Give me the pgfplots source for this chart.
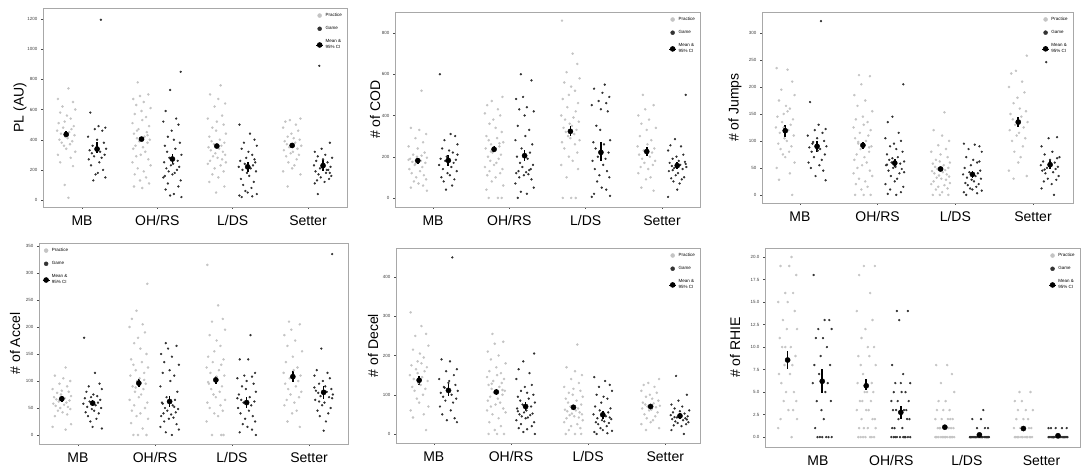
\documentclass[border=0pt]{standalone}
\usepackage{pgfplots}
\usepackage{pgfplotstable}
\pgfplotsset{compat=1.18}
\usepackage{fontspec}
\setmainfont{Liberation Sans}
\definecolor{pracC}{HTML}{C4C4C4}
\definecolor{gameC}{HTML}{303030}
\definecolor{frameC}{HTML}{A8A8A8}

% ---------- PL (AU) ----------
\pgfplotstableread[header=false]{
j1 -0.11 0.03 0.09 -0.05 0.12 -0.08 0.01 0.06 -0.02 -0.10 0.10 -0.04 0.07 -0.12 0.04 -0.07 0.11 -0.01 0.02 -0.09 0.08 -0.06 0.05 -0.03 0.00 0.12 -0.11 0.06 -0.08 0.09 -0.02 0.03 -0.12 0.10 -0.05 0.07 -0.10 0.01 0.04 -0.07
j2 0.05 -0.09 0.02 0.11 -0.03 0.07 -0.12 0.00 0.09 -0.06 -0.01 0.12 -0.10 0.04 -0.07 0.10 -0.04 0.06 -0.11 0.03 -0.08 0.08 -0.02 0.11 -0.05 0.01 0.07 -0.09 0.12 -0.12 0.05 -0.03 0.09 -0.06 0.02 -0.10 0.10 -0.01 -0.08 0.06
pA 670 740 650 620 600 580 560 540 520 510 490 480 470 460 450 440 430 420 410 400 390 380 370 360 340 320 300 280 250 225 100 15 nan nan nan nan nan nan nan nan
pB 780 700 690 670 650 630 610 590 570 550 530 510 490 470 450 440 420 410 400 390 380 360 350 340 320 300 290 270 250 230 210 190 170 150 130 110 90 80 430 460
pC 760 700 670 640 620 560 540 520 500 480 460 440 420 400 390 380 370 360 350 340 330 320 310 300 290 280 270 260 250 240 230 210 190 170 150 120 90 50 nan nan
pD 540 530 520 500 480 460 440 420 410 400 390 380 370 360 350 340 330 320 310 300 290 270 250 230 210 190 170 90 nan nan nan nan nan nan nan nan nan nan nan nan
gA 1195 580 490 480 470 460 420 400 380 360 350 340 330 320 310 300 290 280 270 250 230 200 170 150 130 180 nan nan nan nan nan nan nan nan nan nan nan nan nan nan
gB 850 730 590 540 520 500 460 420 400 380 360 340 320 300 280 260 250 240 230 220 210 200 190 180 170 150 130 110 90 70 40 30 20 160 nan nan nan nan nan nan
gC 500 440 400 380 360 340 320 300 280 260 250 240 230 220 210 200 190 180 160 140 120 100 80 60 50 40 30 25 20 270 nan nan nan nan nan nan nan nan nan nan
gD 890 380 340 320 300 290 280 270 260 250 240 230 220 210 200 190 180 170 160 150 140 130 120 110 200 215 40 180 nan nan nan nan nan nan nan nan nan nan nan nan
}\rawPL
\pgfplotstabletranspose[colnames from=0]\tPL\rawPL

% ---------- # of COD ----------
\pgfplotstableread[header=false]{
j1 -0.11 0.03 0.09 -0.05 0.12 -0.08 0.01 0.06 -0.02 -0.10 0.10 -0.04 0.07 -0.12 0.04 -0.07 0.11 -0.01 0.02 -0.09 0.08 -0.06 0.05 -0.03 0.00 0.12 -0.11 0.06 -0.08 0.09 -0.02 0.03 -0.12 0.10 -0.05 0.07 -0.10 0.01 0.04 -0.07
j2 0.05 -0.09 0.02 0.11 -0.03 0.07 -0.12 0.00 0.09 -0.06 -0.01 0.12 -0.10 0.04 -0.07 0.10 -0.04 0.06 -0.11 0.03 -0.08 0.08 -0.02 0.11 -0.05 0.01 0.07 -0.09 0.12 -0.12 0.05 -0.03 0.09 -0.06 0.02 -0.10 0.10 -0.01 -0.08 0.06
pA 520 340 330 310 290 270 250 240 220 210 200 195 190 180 175 170 160 150 140 130 120 110 100 90 80 70 60 50 35 185 205 165 nan nan nan nan nan nan nan nan
pB 490 470 450 430 410 400 380 360 340 320 300 290 280 270 260 250 240 230 220 210 200 190 180 170 160 150 140 130 120 110 100 80 60 40 0 0 0 245 225 265
pC 860 700 650 610 580 560 540 520 500 480 460 440 420 400 390 380 370 360 350 340 330 320 310 300 290 280 270 260 240 220 200 180 160 140 100 0 0 0 nan nan
pD 500 450 430 400 380 360 340 330 300 280 260 250 240 230 220 210 200 190 180 170 160 150 140 120 100 90 50 35 nan nan nan nan nan nan nan nan nan nan nan nan
gA 600 310 300 280 260 240 230 220 200 190 185 180 170 160 150 140 130 120 110 100 90 80 60 40 175 210 nan nan nan nan nan nan nan nan nan nan nan nan nan nan
gB 600 570 490 480 440 430 420 400 350 330 300 280 260 240 220 200 190 170 160 150 140 130 125 120 115 110 100 90 70 50 30 20 0 135 nan nan nan nan nan nan
gC 550 530 510 490 470 460 450 430 420 350 330 280 270 260 240 220 200 190 180 160 140 130 110 100 80 50 40 20 10 5 nan nan nan nan nan nan nan nan nan nan
gD 500 285 255 250 230 210 200 190 180 175 170 160 155 150 145 140 130 120 110 100 95 90 80 70 40 5 165 135 nan nan nan nan nan nan nan nan nan nan nan nan
}\rawCOD
\pgfplotstabletranspose[colnames from=0]\tCOD\rawCOD

% ---------- # of Jumps ----------
\pgfplotstableread[header=false]{
j1 -0.11 0.03 0.09 -0.05 0.12 -0.08 0.01 0.06 -0.02 -0.10 0.10 -0.04 0.07 -0.12 0.04 -0.07 0.11 -0.01 0.02 -0.09 0.08 -0.06 0.05 -0.03 0.00 0.12 -0.11 0.06 -0.08 0.09 -0.02 0.03 -0.12 0.10 -0.05 0.07 -0.10 0.01 0.04 -0.07
j2 0.05 -0.09 0.02 0.11 -0.03 0.07 -0.12 0.00 0.09 -0.06 -0.01 0.12 -0.10 0.04 -0.07 0.10 -0.04 0.06 -0.11 0.03 -0.08 0.08 -0.02 0.11 -0.05 0.01 0.07 -0.09 0.12 -0.12 0.05 -0.03 0.09 -0.06 0.02 -0.10 0.10 -0.01 -0.08 0.06
pA 235 232 210 195 185 175 165 160 150 145 140 135 130 125 120 115 110 105 100 95 90 85 80 75 70 60 50 40 28 0 125 155 nan nan nan nan nan nan nan nan
pB 222 220 205 185 175 165 155 145 140 135 130 125 120 115 110 105 100 95 90 85 80 75 70 65 60 55 50 45 40 35 30 25 20 15 10 0 0 0 88 98
pC 153 120 110 100 92 85 80 75 70 65 62 60 58 55 52 50 48 46 44 42 40 38 36 34 32 30 28 25 22 20 18 15 12 10 5 0 0 0 nan nan
pD 258 230 225 210 200 190 180 170 160 155 150 145 140 135 130 125 120 115 110 105 100 90 80 70 60 45 35 30 nan nan nan nan nan nan nan nan nan nan nan nan
gA 322 172 130 122 120 115 110 105 100 95 92 90 88 85 80 75 70 65 60 55 50 45 35 27 98 82 nan nan nan nan nan nan nan nan nan nan nan nan nan nan
gB 205 145 135 115 105 100 95 90 85 80 75 70 65 62 60 58 55 52 50 48 45 40 35 30 25 20 15 10 5 2 0 68 42 56 nan nan nan nan nan nan
gC 95 93 90 85 80 70 65 60 55 50 45 42 40 38 35 32 30 28 25 22 20 18 15 12 10 8 5 3 0 62 nan nan nan nan nan nan nan nan nan nan
gD 246 107 105 90 80 75 70 65 62 60 58 55 52 50 48 45 42 40 35 30 28 25 20 12 0 53 47 68 nan nan nan nan nan nan nan nan nan nan nan nan
}\rawJ
\pgfplotstabletranspose[colnames from=0]\tJ\rawJ

% ---------- # of Accel ----------
\pgfplotstableread[header=false]{
j1 -0.11 0.03 0.09 -0.05 0.12 -0.08 0.01 0.06 -0.02 -0.10 0.10 -0.04 0.07 -0.12 0.04 -0.07 0.11 -0.01 0.02 -0.09 0.08 -0.06 0.05 -0.03 0.00 0.12 -0.11 0.06 -0.08 0.09 -0.02 0.03 -0.12 0.10 -0.05 0.07 -0.10 0.01 0.04 -0.07
j2 0.05 -0.09 0.02 0.11 -0.03 0.07 -0.12 0.00 0.09 -0.06 -0.01 0.12 -0.10 0.04 -0.07 0.10 -0.04 0.06 -0.11 0.03 -0.08 0.08 -0.02 0.11 -0.05 0.01 0.07 -0.09 0.12 -0.12 0.05 -0.03 0.09 -0.06 0.02 -0.10 0.10 -0.01 -0.08 0.06
pA 125 110 105 100 95 90 85 82 80 78 75 72 70 68 66 64 62 60 58 56 54 52 50 48 45 42 38 35 20 15 10 65 nan nan nan nan nan nan nan nan
pB 280 230 215 205 200 190 180 170 160 150 140 135 130 125 120 115 110 105 100 95 90 85 80 75 70 65 60 55 50 45 40 35 30 22 12 0 0 0 88 102
pC 315 240 215 210 195 185 175 165 155 145 140 135 130 125 120 115 110 105 100 95 90 85 80 75 70 65 60 55 50 45 40 35 25 0 0 0 98 108 nan nan
pD 210 205 195 185 175 165 155 145 135 125 120 115 110 105 100 95 90 85 80 75 70 65 60 55 45 40 25 15 nan nan nan nan nan nan nan nan nan nan nan nan
gA 180 115 95 90 85 80 75 72 70 68 65 62 60 58 55 52 50 48 45 42 40 35 30 25 15 12 nan nan nan nan nan nan nan nan nan nan nan nan nan nan
gB 170 165 160 150 145 135 130 120 115 110 100 90 80 70 65 60 55 50 48 45 42 40 38 35 32 30 25 20 15 10 5 0 58 52 nan nan nan nan nan nan
gC 185 140 140 115 110 108 105 100 95 90 85 80 75 70 65 62 60 55 50 45 40 35 30 25 20 15 10 5 0 68 nan nan nan nan nan nan nan nan nan nan
gD 335 160 120 115 110 105 100 95 90 85 82 80 78 75 72 70 65 60 55 50 45 40 35 25 8 88 68 62 nan nan nan nan nan nan nan nan nan nan nan nan
}\rawA
\pgfplotstabletranspose[colnames from=0]\tA\rawA

% ---------- # of Decel ----------
\pgfplotstableread[header=false]{
j1 -0.11 0.03 0.09 -0.05 0.12 -0.08 0.01 0.06 -0.02 -0.10 0.10 -0.04 0.07 -0.12 0.04 -0.07 0.11 -0.01 0.02 -0.09 0.08 -0.06 0.05 -0.03 0.00 0.12 -0.11 0.06 -0.08 0.09 -0.02 0.03 -0.12 0.10 -0.05 0.07 -0.10 0.01 0.04 -0.07
j2 0.05 -0.09 0.02 0.11 -0.03 0.07 -0.12 0.00 0.09 -0.06 -0.01 0.12 -0.10 0.04 -0.07 0.10 -0.04 0.06 -0.11 0.03 -0.08 0.08 -0.02 0.11 -0.05 0.01 0.07 -0.09 0.12 -0.12 0.05 -0.03 0.09 -0.06 0.02 -0.10 0.10 -0.01 -0.08 0.06
pA 310 275 255 250 225 215 205 195 185 175 170 165 160 150 145 140 135 130 125 120 115 110 100 90 80 70 60 50 42 10 155 180 nan nan nan nan nan nan nan nan
pB 255 235 230 210 200 190 180 170 160 155 150 145 140 135 130 125 120 115 110 105 100 95 90 85 80 75 70 65 60 55 50 40 30 20 10 0 0 0 112 128
pC 228 170 160 150 140 130 120 115 110 105 100 95 90 85 80 75 70 65 62 60 58 55 52 50 48 45 42 40 35 30 25 20 15 10 0 0 0 72 nan nan
pD 140 130 125 120 110 105 100 95 90 85 80 78 75 72 70 68 65 62 60 55 50 45 40 35 30 25 15 10 nan nan nan nan nan nan nan nan nan nan nan nan
gA 450 190 185 165 160 150 140 130 125 120 115 110 105 100 95 90 85 80 70 60 50 40 35 30 118 135 nan nan nan nan nan nan nan nan nan nan nan nan nan nan
gB 205 185 165 155 140 125 120 110 105 100 95 90 85 80 75 70 65 60 55 52 50 48 45 42 40 35 30 25 20 15 12 5 0 58 nan nan nan nan nan nan
gC 145 135 125 120 110 100 95 90 80 70 65 60 55 50 45 40 38 35 32 30 28 25 20 15 10 8 5 2 0 42 nan nan nan nan nan nan nan nan nan nan
gD 148 100 85 75 70 65 60 58 55 52 50 48 45 42 40 38 35 32 30 28 25 22 20 10 0 47 43 37 nan nan nan nan nan nan nan nan nan nan nan nan
}\rawD
\pgfplotstabletranspose[colnames from=0]\tD\rawD

% ---------- # of RHIE ----------
\pgfplotstableread[header=false]{
j1 -0.11 0.03 0.09 -0.05 0.12 -0.08 0.01 0.06 -0.02 -0.10 0.10 -0.04 0.07 -0.12 0.04 -0.07 0.11 -0.01 0.02 -0.09 0.08 -0.06 0.05 -0.03 0.00 0.12 -0.11 0.06 -0.08 0.09 -0.02 0.03 -0.12 0.10 -0.05 0.07 -0.10 0.01 0.04 -0.07
j2 0.05 -0.09 0.02 0.11 -0.03 0.07 -0.12 0.00 0.09 -0.06 -0.01 0.12 -0.10 0.04 -0.07 0.10 -0.04 0.06 -0.11 0.03 -0.08 0.08 -0.02 0.11 -0.05 0.01 0.07 -0.09 0.12 -0.12 0.05 -0.03 0.09 -0.06 0.02 -0.10 0.10 -0.01 -0.08 0.06
pA 20 19 19 18 16 16 15 15 14 13 12 12 11 10 10 9 8 8 7 7 6 5 5 4 4 3 3 2 2 1 0 10 nan nan nan nan nan nan nan nan
pB 19 19 18 16 14 13 12 11 10 10 9 9 8 8 7 6 6 5 5 5 4 4 4 3 3 3 2 2 2 1 1 1 1 0 0 0 0 0 0 0
pC 8 8 7 6 5 4 4 3 3 3 2 2 2 2 2 1 1 1 1 1 1 1 1 0 0 0 0 0 0 0 0 0 0 0 0 0 0 0 nan nan
pD 5 5 4 4 3 3 3 2 2 2 1 1 1 1 1 0 0 0 0 0 0 0 0 0 0 0 0 0 nan nan nan nan nan nan nan nan nan nan nan nan
gA 18 13 13 12 12 11 11 10 9 8 8 7 6 6 5 4 4 3 2 1 0 0 0 0 0 0 nan nan nan nan nan nan nan nan nan nan nan nan nan nan
gB 14 14 13 8 7 6 6 6 5 5 5 4 4 4 3 3 3 3 2 2 2 1 1 1 0 0 0 0 0 0 0 0 0 0 nan nan nan nan nan nan
gC 3 2 2 1 1 1 0 0 0 0 0 0 0 0 0 0 0 0 0 0 0 0 0 0 0 0 0 0 0 0 nan nan nan nan nan nan nan nan nan nan
gD 1 1 1 1 1 0 0 0 0 0 0 0 0 0 0 0 0 0 0 0 0 0 0 0 0 0 0 0 nan nan nan nan nan nan nan nan nan nan nan nan
}\rawR
\pgfplotstabletranspose[colnames from=0]\tR\rawR

\pgfplotsset{
  panel/.style={
    scale only axis, anchor=south west,
    axis line style={draw=frameC, line width=0.8pt},
    tick align=outside, major tick length=2pt,
    tick style={draw=black!70, line width=0.4pt},
    xtick pos=left, ytick pos=left,
    xtick={0,1,2,3}, xticklabels={MB,OH/RS,L/DS,Setter},
    xticklabel style={font=\fontsize{14}{16}\selectfont, yshift=-3pt},
    yticklabel style={font=\fontsize{4.5}{5}\selectfont, text=black!75},
    ylabel style={font=\fontsize{14}{16}\selectfont, at={(rel axis cs:0,0.5)}, anchor=center},
    /pgf/number format/assume math mode=true,
    /pgf/number format/1000 sep={},
    scaled y ticks=false,
    legend style={draw=none, fill=none, font=\fontsize{4.5}{5.5}\selectfont,
      at={(rel axis cs:0.99,0.985)}, anchor=north east, row sep=4.5pt, inner sep=0pt},
    legend cell align=left,
    legend image code/.code={\draw[mark repeat=2,mark phase=2,##1] plot coordinates {(0pt,0pt) (3.5pt,0pt) (7pt,0pt)};},
  },
  pstyle/.style={forget plot, only marks, mark=*, mark size=1.05pt, color=pracC},
  gstyle/.style={forget plot, only marks, mark=*, mark size=0.95pt, color=gameC},
  mstyle/.style={forget plot, only marks, mark=*, mark size=2.6pt, black,
    error bars/.cd, y dir=both, y explicit, error mark=none,
    error bar style={line width=1.6pt, black}},
}

\newcommand{\legs}{%
  \addlegendimage{only marks, mark=*, mark size=2pt, color=pracC}
  \addlegendentry{Practice}
  \addlegendimage{only marks, mark=*, mark size=2pt, color=black!80}
  \addlegendentry{Game}
  \addlegendimage{black, line width=0.7pt, mark=*, mark size=2.4pt}
  \addlegendentry{\shortstack[l]{Mean \&\\95\% CI}}
}

% #1 table, #2 practice offset, #3 game offset, #4 and #5 jitter columns
\newcommand{\strips}[5]{%
  \addplot[pstyle] table[x expr={(\thisrow{#4})+(#2)}, y=pA]{#1};
  \addplot[pstyle] table[x expr={1+(#2)-(\thisrow{#5})}, y=pB]{#1};
  \addplot[pstyle] table[x expr={2+(#2)+(\thisrow{#5})}, y=pC]{#1};
  \addplot[pstyle] table[x expr={3+(#2)-(\thisrow{#4})}, y=pD]{#1};
  \addplot[gstyle] table[x expr={(\thisrow{#5})+(#3)}, y=gA]{#1};
  \addplot[gstyle] table[x expr={1+(#3)-(\thisrow{#4})}, y=gB]{#1};
  \addplot[gstyle] table[x expr={2+(#3)+(\thisrow{#4})}, y=gC]{#1};
  \addplot[gstyle] table[x expr={3+(#3)-(\thisrow{#5})}, y=gD]{#1};
}

\begin{document}
\begin{tikzpicture}
\useasboundingbox (0,0) rectangle (1084pt,471pt);

% PL (AU)
\begin{axis}[panel, at={(43pt,264pt)}, width=304pt, height=199pt,
  xmin=-0.518, xmax=3.518, ymin=-46, ymax=1273,
  ytick={0,200,...,1200}, ylabel={PL (AU)}, ylabel style={yshift=23pt}]
\legs
\strips{\tPL}{-0.21}{0.2}{j1}{j2}
\addplot[mstyle] coordinates {(-0.21,435) +- (0,20) (0.2,338) += (0,49) -= (0,28)
  (0.79,404) +- (0,15) (1.2,272) +- (0,32) (1.79,358) +- (0,15) (2.2,220) +- (0,35)
  (2.79,362) +- (0,18) (3.2,228) +- (0,35)};
\end{axis}

% COD
\begin{axis}[panel, at={(395pt,264pt)}, width=305pt, height=195pt,
  xmin=-0.498, xmax=3.498, ymin=-44, ymax=902,
  ytick={0,200,...,800}, ylabel={\# of COD}, ylabel style={yshift=20pt}]
\legs
\strips{\tCOD}{-0.2}{0.2}{j2}{j1}
\addplot[mstyle] coordinates {(-0.2,181) +- (0,15) (0.2,182) +- (0,25)
  (0.8,236) +- (0,15) (1.2,205) +- (0,28) (1.8,323) +- (0,25) (2.2,221) += (0,50) -= (0,40)
  (2.8,225) +- (0,20) (3.2,157) +- (0,18)};
\end{axis}

% Jumps
\begin{axis}[panel, at={(762pt,268pt)}, width=311pt, height=191pt,
  xmin=-0.489, xmax=3.515, ymin=-15, ymax=339,
  ytick={0,50,...,300}, ylabel={\# of Jumps}, ylabel style={yshift=27pt}]
\legs
\strips{\tJ}{-0.19}{0.22}{j1}{j2}
\addplot[mstyle] coordinates {(-0.19,119) +- (0,11) (0.22,90) +- (0,10)
  (0.81,92) +- (0,6) (1.22,59) +- (0,7) (1.81,48) +- (0,4) (2.22,38) +- (0,6)
  (2.81,135) +- (0,10) (3.22,56) +- (0,8)};
\end{axis}

% Accel
\begin{axis}[panel, at={(39pt,27pt)}, width=309pt, height=201pt,
  xmin=-0.506, xmax=3.506, ymin=-16.7, ymax=355.6,
  ytick={0,50,...,350}, ylabel={\# of Accel}, ylabel style={yshift=24pt},
  legend style={at={(rel axis cs:0.01,0.985)}, anchor=north west}]
\legs
\strips{\tA}{-0.21}{0.19}{j2}{j1}
\addplot[mstyle] coordinates {(-0.21,67) +- (0,5) (0.19,59) +- (0,6)
  (0.79,96) +- (0,7) (1.19,62) +- (0,10) (1.79,102) +- (0,8) (2.19,60) +- (0,10)
  (2.79,108) +- (0,10) (3.19,79) +- (0,12)};
\end{axis}

% Decel
\begin{axis}[panel, at={(396pt,28pt)}, width=304pt, height=195pt,
  xmin=-0.49, xmax=3.45, ymin=-23, ymax=474,
  ytick={0,100,...,400}, ylabel={\# of Decel}, ylabel style={yshift=23pt}]
\legs
\strips{\tD}{-0.19}{0.19}{j1}{j2}
\addplot[mstyle] coordinates {(-0.19,137) +- (0,12) (0.19,111) += (0,20) -= (0,15)
  (0.81,107) +- (0,7) (1.19,70) +- (0,12) (1.81,68) +- (0,7) (2.19,49) +- (0,10)
  (2.81,70) +- (0,7) (3.19,46) +- (0,8)};
\end{axis}

% RHIE
\begin{axis}[panel, at={(765pt,24pt)}, width=315pt, height=199pt,
  xmin=-0.508, xmax=3.5, ymin=-1.1, ymax=21,
  xtick={0.165,1.1,2.06,3.01}, x tick style={draw=none},
  ytick={0,2.5,...,20}, ylabel={\# of RHIE}, ylabel style={yshift=30pt},
  yticklabel style={/pgf/number format/.cd, fixed, fixed zerofill, precision=1}]
\legs
\strips{\tR}{-0.22}{0.22}{j2}{j1}
\addplot[mstyle] coordinates {(-0.22,8.56) +- (0,1.05) (0.22,6.2) +- (0,1.35)
  (0.78,5.7) += (0,0.7) -= (0,0.5) (1.22,2.75) +- (0,0.75) (1.78,1.1) +- (0,0.25) (2.22,0.25) +- (0,0.15)
  (2.78,0.95) +- (0,0.3) (3.22,0.15) +- (0,0.1)};
\end{axis}
\end{tikzpicture}
\end{document}
